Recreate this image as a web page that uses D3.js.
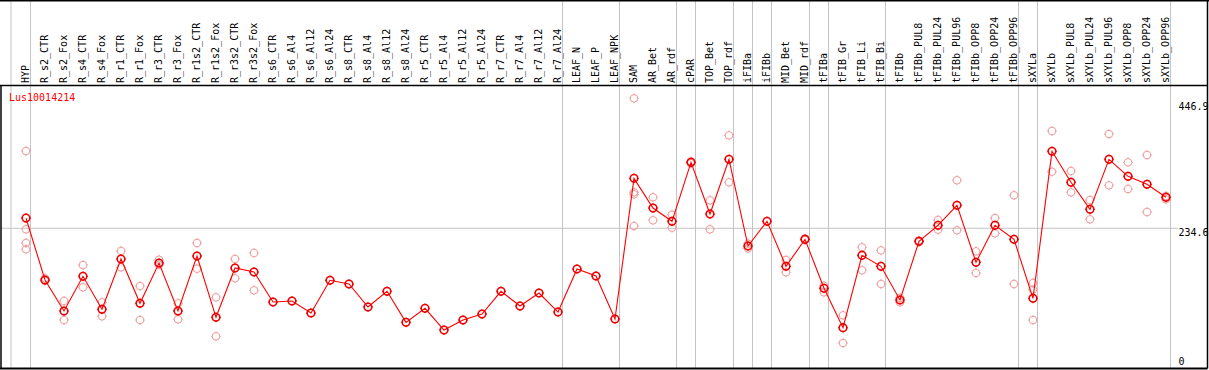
<!DOCTYPE html>
<html>
<head>
<meta charset="utf-8">
<script src="https://cdn.jsdelivr.net/npm/d3@7/dist/d3.min.js"></script>
<style>
html,body{margin:0;padding:0;background:#fff;}
svg{display:block;}
text{font-family:"DejaVu Sans Mono","Liberation Mono",monospace;font-size:10px;}
</style>
</head>
<body>
<svg id="chart" width="1209" height="370"></svg>
<script>
const title = "Lus10014214";
const categories = ["HYP","R_s2_CTR","R_s2_Fox","R_s4_CTR","R_s4_Fox","R_r1_CTR","R_r1_Fox","R_r3_CTR","R_r3_Fox","R_r1s2_CTR","R_r1s2_Fox","R_r3s2_CTR","R_r3s2_Fox","R_s6_CTR","R_s6_Al4","R_s6_Al12","R_s6_Al24","R_s8_CTR","R_s8_Al4","R_s8_Al12","R_s8_Al24","R_r5_CTR","R_r5_Al4","R_r5_Al12","R_r5_Al24","R_r7_CTR","R_r7_Al4","R_r7_Al12","R_r7_Al24","LEAF_N","LEAF_P","LEAF_NPK","SAM","AR_Bet","AR_rdf","cPAR","TOP_Bet","TOP_rdf","iFIBa","iFIBb","MID_Bet","MID_rdf","tFIBa","tFIB_Gr","tFIB_Li","tFIB_Bi","tFIBb","tFIBb_PUL8","tFIBb_PUL24","tFIBb_PUL96","tFIBb_OPP8","tFIBb_OPP24","tFIBb_OPP96","sXYLa","sXYLb","sXYLb_PUL8","sXYLb_PUL24","sXYLb_PUL96","sXYLb_OPP8","sXYLb_OPP24","sXYLb_OPP96"];
const meanValues = [251.9,147.3,95.0,153.6,97.9,182.8,108.0,176.0,95.0,187.8,84.4,167.6,160.8,110.2,111.9,91.6,146.8,140.6,101.8,128.3,75.9,99.6,62.9,79.8,89.9,128.3,103.4,125.4,93.3,165.9,154.1,81.5,318.9,268.8,246.4,345.9,258.7,351.0,204.7,246.4,170.4,216.0,133.3,66.8,189.0,170.4,113.6,212.6,239.6,273.4,177.2,239.6,216.0,116.4,364.5,312.2,266.6,351.0,322.3,308.8,286.9];
const replicateValues = [
  [365.0,232.9,209.8,199.1],
  [150.2,146.1],
  [111.9,79.8],
  [172.6,135.0],
  [109.7,86.1],
  [196.3,168.8],
  [137.2,79.8],
  [181.6,173.1],
  [108.0,81.0],
  [209.8,166.4],
  [118.1,52.3],
  [182.8,150.2],
  [192.9,129.9],
  [],[],[],[],[],[],[],[],[],[],[],[],[],[],[],[],
  [],[],[],
  [453.9,295.3,291.9,238.4],
  [286.9,248.1],
  [257.5,235.6],
  [347.6,344.3],
  [281.8,232.9],
  [391.5,312.2],
  [200.8,208.6],
  [],
  [181.1,160.3],
  [217.4,214.8],
  [137.7,126.6],
  [87.8,41.0],
  [202.5,163.7],
  [197.4,140.6],
  [109.7,117.0],
  [214.0,211.4],
  [248.6,232.2],
  [315.6,231.2],
  [195.8,159.1],
  [251.9,226.1],
  [290.3,140.6],
  [142.3,131.0,79.8],
  [398.8,330.1],
  [331.3,295.3],
  [282.3,249.8],
  [393.7,307.1],
  [345.9,300.9],
  [358.3,262.1],
  [283.5,289.1]
];
const yTickValues = [0, 234.6, 446.9];
const groupEnds = ["HYP","R_r7_Al24","LEAF_NPK","AR_rdf","cPAR","TOP_rdf","iFIBa","iFIBb","MID_rdf","tFIBa","tFIB_Bi","tFIBb_OPP96","sXYLa","sXYLb_OPP96"];

const svg = d3.select("#chart");
const W = 1209, H = 370;
const headerBottom = 85.5, plotBottom = 368.5, rightEdge = 1207.5;

const x = d3.scalePoint().domain(categories).range([26, 1166]);
const y = d3.scaleLinear().domain([0, 446.9]).range([367.3, 102.5]);

const grey = "#c4c4c4";
// vertical separators
const sepX = [x("HYP") - 15].concat(groupEnds.map(c => x(c) + 4.5));
svg.selectAll("line.sep").data(sepX).enter().append("line")
  .attr("x1", d => d).attr("x2", d => d).attr("y1", 0).attr("y2", plotBottom)
  .attr("stroke", grey).attr("stroke-width", 1);

// horizontal mid gridline
svg.append("line").attr("x1", 1).attr("x2", 1178)
  .attr("y1", y(234.6)).attr("y2", y(234.6))
  .attr("stroke", grey).attr("stroke-width", 1);

// header labels
svg.selectAll("text.cat").data(categories).enter().append("text")
  .attr("transform", d => `translate(${x(d) + 3},83) rotate(-90)`)
  .attr("fill", "#000").text(d => d);

// y tick labels
svg.selectAll("text.ytick").data(yTickValues).enter().append("text")
  .attr("x", 1178.5)
  .attr("y", (d, i) => i === 0 ? y(d) - 2.5 : y(d) + 7.5)
  .attr("fill", "#000").text(d => d === 0 ? "0" : d3.format(".1f")(d));

// title
svg.append("text").attr("x", 9).attr("y", 101).attr("fill", "#ff0000").text(title);

// marker helper
function marker(g, cx, cy, color, sw) {
  const r = 3.8;
  g.append("circle").attr("cx", cx).attr("cy", cy).attr("r", r)
    .attr("fill", "none").attr("stroke", color).attr("stroke-width", sw);
  const t = [[0,-1],[0,1],[-1,0],[1,0]];
  t.forEach(([dx,dy]) => {
    g.append("line")
      .attr("x1", cx + dx*r).attr("y1", cy + dy*r)
      .attr("x2", cx + dx*(r+1.1)).attr("y2", cy + dy*(r+1.1))
      .attr("stroke", color).attr("stroke-width", 1);
  });
}

// replicates
const repG = svg.append("g");
categories.forEach((c, i) => {
  replicateValues[i].forEach(v => marker(repG, x(c), y(v), "#f09a9a", 1));
});

// mean line
const line = d3.line().x((d, i) => x(categories[i])).y(d => y(d));
svg.append("path").datum(meanValues).attr("d", line)
  .attr("fill", "none").attr("stroke", "#ff0000").attr("stroke-width", 1.1);

// mean markers
const mG = svg.append("g");
meanValues.forEach((v, i) => marker(mG, x(categories[i]), y(v), "#ee0000", 1.6));

// frame
svg.append("line").attr("x1", 0).attr("x2", W).attr("y1", 0.75).attr("y2", 0.75).attr("stroke", "#000").attr("stroke-width", 1.5);
svg.append("line").attr("x1", 0).attr("x2", rightEdge).attr("y1", headerBottom).attr("y2", headerBottom).attr("stroke", "#000").attr("stroke-width", 1.5);
svg.append("line").attr("x1", 0).attr("x2", rightEdge).attr("y1", plotBottom).attr("y2", plotBottom).attr("stroke", "#000").attr("stroke-width", 2);
svg.append("line").attr("x1", 1).attr("x2", 1).attr("y1", headerBottom).attr("y2", plotBottom).attr("stroke", "#000").attr("stroke-width", 1.5);
svg.append("line").attr("x1", rightEdge).attr("x2", rightEdge).attr("y1", 0).attr("y2", plotBottom).attr("stroke", "#000").attr("stroke-width", 1.5);
</script>
</body>
</html>
